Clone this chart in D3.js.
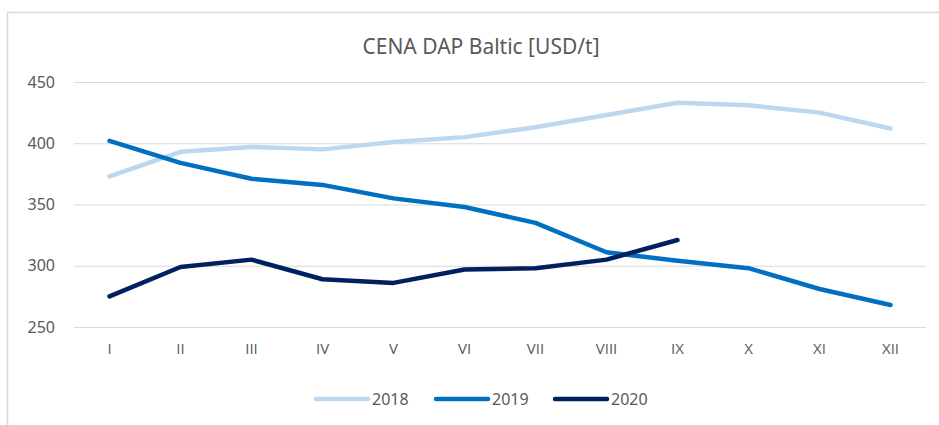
<!DOCTYPE html>
<html>
<head>
<meta charset="utf-8">
<script src="https://cdn.jsdelivr.net/npm/d3@7"></script>
<style>
    body { margin: 0; background: #fff; }
    text { font-family: "Noto Sans", sans-serif; fill: #595959; }
</style>
</head>
<body>
<svg width="939" height="425"></svg>
<script>
var months = ["I", "II", "III", "IV", "V", "VI", "VII", "VIII", "IX", "X", "XI", "XII"]
var y_ticks = [250, 300, 350, 400, 450]
var years = ["2018", "2019", "2020"]
var price_2018 = [373, 393, 397, 395, 401, 405, 413, 423, 433, 431, 425, 412]
var price_2019 = [402, 384, 371, 366, 355, 348, 335, 311, 304, 298, 281, 268]
var price_2020 = [275, 299, 305, 289, 286, 297, 298, 305, 321]
var colors = ["#BDD7EE", "#0070C0", "#002060"]

function setup_svg() {
    var svg = d3.select("svg"), margin = {
        top: 82, right: 13, bottom: 98, left: 74
    },
        width = svg.attr("width") - margin.left - margin.right,
        height = svg.attr("height") - margin.top - margin.bottom,
        g = svg.append("g").attr("transform", "translate(" + margin.left + "," + margin.top + ")");

    return { width, height, g, svg, margin };
}

function draw_chart() {
    var { width, height, g, svg, margin } = setup_svg();

    // outer frame of the chart area
    svg.append("rect")
        .attr("x", 7.5)
        .attr("y", 12.5)
        .attr("width", 940)
        .attr("height", 430)
        .attr("fill", "none")
        .attr("stroke", "#d9d9d9")
        .attr("stroke-width", 1.5)

    svg.append("text")
        .attr("x", 481)
        .attr("y", 54)
        .attr("text-anchor", "middle")
        .attr("font-size", "21px")
        .text("CENA DAP Baltic [USD/t]")

    var x_scale = d3.scaleBand()
        .domain(months)
        .range([0, width])
    var y_scale = d3.scaleLinear()
        .domain([250, 450])
        .range([height, 0])

    // gridlines + y labels
    var y_axis = g.append("g")
        .call(d3.axisLeft(y_scale).tickValues(y_ticks).tickSize(-width).tickPadding(19))
    y_axis.attr("font-family", "Noto Sans")
    y_axis.select(".domain").remove()
    y_axis.selectAll("line").attr("stroke", "#d9d9d9").attr("stroke-width", 1.2)
    y_axis.selectAll("text").attr("font-size", "16px").attr("fill", "#595959")

    var x_axis = g.append("g")
        .attr("transform", "translate(0," + height + ")")
        .call(d3.axisBottom(x_scale).tickSize(0).tickPadding(16))
    x_axis.attr("font-family", "Open Sans")
    x_axis.select(".domain").remove()
    x_axis.selectAll("text").attr("font-size", "15px").attr("fill", "#595959")
        .style("font-family", "'Open Sans', 'DejaVu Sans', sans-serif")

    var line = d3.line()
        .x(function (d, i) { return x_scale(months[i]) + x_scale.bandwidth() / 2; })
        .y(function (d) { return y_scale(d); })

    var series = [price_2018, price_2019, price_2020]
    for (var i = 0; i < series.length; i++) {
        g.append("path")
            .datum(series[i])
            .attr("fill", "none")
            .attr("stroke", colors[i])
            .attr("stroke-width", 4.5)
            .attr("stroke-linecap", "round")
            .attr("stroke-linejoin", "round")
            .attr("d", line)
    }

    // legend
    var legend_x = [316, 436, 555]
    var legend = svg.selectAll(".legend")
        .data(years)
        .enter()
        .append("g")
        .attr("class", "legend")
        .attr("transform", function (d, i) { return "translate(" + legend_x[i] + ",399)"; })
    legend.append("line")
        .attr("x1", 0)
        .attr("x2", 52)
        .attr("stroke", function (d, i) { return colors[i]; })
        .attr("stroke-width", 4.5)
        .attr("stroke-linecap", "round")
    legend.append("text")
        .attr("x", 56)
        .attr("y", 6)
        .attr("font-size", "16px")
        .text(function (d) { return d; })
}

draw_chart()
</script>
</body>
</html>
